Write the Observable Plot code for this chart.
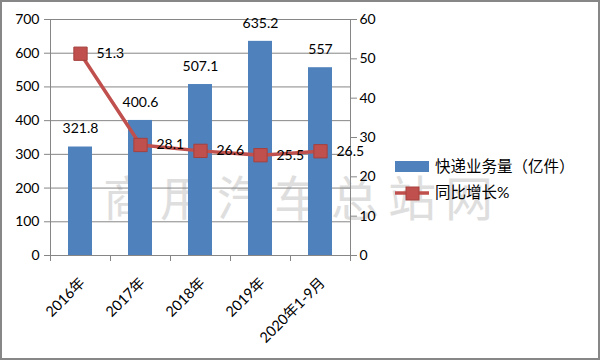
<!DOCTYPE html>
<html>
<head>
<meta charset="utf-8">
<script src="https://cdn.jsdelivr.net/npm/d3@7"></script>
<script src="https://cdn.jsdelivr.net/npm/@observablehq/plot@0.6"></script>
<style>
  body { margin: 0; background: #fff; }
  #chart { width: 600px; height: 360px; }
  svg { font-family: Lato, "Noto Sans CJK SC", sans-serif; }
</style>
</head>
<body>
<div id="chart"></div>
<script>
const categories = ["2016年", "2017年", "2018年", "2019年", "2020年1-9月"];
const volume = [321.8, 400.6, 507.1, 635.2, 557];      // 快递业务量（亿件）
const growth = [51.3, 28.1, 26.6, 25.5, 26.5];          // 同比增长%
const leftTicks = [0, 100, 200, 300, 400, 500, 600, 700];
const rightTicks = [0, 10, 20, 30, 40, 50, 60];
const seriesNames = ["快递业务量（亿件）", "同比增长%"];
const watermark = "商用汽车总站网";

const LEFT_MAX = 700, RIGHT_MAX = 60;
const toLeft = v => v * LEFT_MAX / RIGHT_MAX;
const blue = "#4F81BD", red = "#C0504D", grid = "#868686";

const data = categories.map((c, i) => ({cat: c, i, volume: volume[i], growth: growth[i]}));

const chart = Plot.plot({
  width: 600,
  height: 360,
  marginLeft: 50,
  marginRight: 250,
  marginTop: 19,
  marginBottom: 105,
  style: {fontSize: "14px", color: "#000", background: "transparent"},
  x: {type: "linear", domain: [0, categories.length], axis: null},
  y: {domain: [0, LEFT_MAX], axis: null},
  marks: [
    Plot.ruleY(leftTicks, {stroke: grid, strokeWidth: 1}),
    Plot.ruleX([0, categories.length], {stroke: grid, strokeWidth: 1}),
    Plot.axisY(leftTicks, {anchor: "left", label: null, tickSize: 6, tickPadding: 5, stroke: grid, fill: "#000", fontSize: 14}),
    Plot.axisY(rightTicks.map(toLeft), {anchor: "right", label: null, tickSize: 6, tickPadding: 3, stroke: grid, fill: "#000", fontSize: 14,
      tickFormat: d => String(Math.round(d * RIGHT_MAX / LEFT_MAX))}),
    Plot.axisX(d3.range(categories.length + 1), {anchor: "bottom", label: null, tickSize: 6, stroke: grid, tickFormat: () => ""}),
    Plot.rectY(data, {x1: d => d.i + 0.3, x2: d => d.i + 0.7, y1: 0, y2: "volume", fill: blue}),
    Plot.text(data, {x: d => d.i + 0.5, y: "volume", text: d => String(d.volume), dy: -18, fontSize: 14, fill: "#000"}),
    Plot.line(data, {x: d => d.i + 0.5, y: d => toLeft(d.growth), stroke: red, strokeWidth: 3.5}),
    Plot.dot(data, {x: d => d.i + 0.5, y: d => toLeft(d.growth), symbol: "square", r: 7.5, fill: red, stroke: "#A5403D", strokeWidth: 1}),
    Plot.text(data, {x: d => d.i + 0.5, y: d => toLeft(d.growth), text: d => String(d.growth), textAnchor: "start", dx: 16, fontSize: 14, fill: "#000"}),
    Plot.text(data, {x: d => d.i + 0.5, y: 0, text: "cat", rotate: -45, textAnchor: "end", dx: 2, dy: 25, fontSize: 14.5, fill: "#000"})
  ]
});

document.getElementById("chart").append(chart);

const svg = d3.select(chart);
// watermark behind marks
const firstG = chart.querySelector("g");
const wm = document.createElementNS("http://www.w3.org/2000/svg", "text");
chart.insertBefore(wm, firstG);
d3.select(wm)
  .attr("x", 103).attr("y", 216)
  .attr("text-anchor", "start")
  .attr("font-size", 48)
  .attr("letter-spacing", 9)
  .attr("fill", "#dedede")
  .attr("font-family", "'Noto Sans CJK SC', sans-serif")
  .text(watermark);

// legend
const lg = svg.append("g").attr("font-size", 15.5).attr("fill", "#000").attr("text-anchor", "start");
lg.append("rect").attr("x", 395).attr("y", 161).attr("width", 34).attr("height", 11).attr("fill", blue);
lg.append("text").attr("x", 435).attr("y", 166.5).attr("dy", "0.35em").text(seriesNames[0]);
lg.append("line").attr("x1", 395).attr("x2", 429).attr("y1", 193).attr("y2", 193).attr("stroke", red).attr("stroke-width", 3.5);
lg.append("rect").attr("x", 406).attr("y", 187).attr("width", 13).attr("height", 13).attr("fill", red).attr("stroke", "#A5403D");
lg.append("text").attr("x", 435).attr("y", 193).attr("dy", "0.35em").text(seriesNames[1]);

// outer border
svg.append("rect").attr("x", 1).attr("y", 1).attr("width", 598).attr("height", 358)
  .attr("fill", "none").attr("stroke", "#878787").attr("stroke-width", 2);
</script>
</body>
</html>
